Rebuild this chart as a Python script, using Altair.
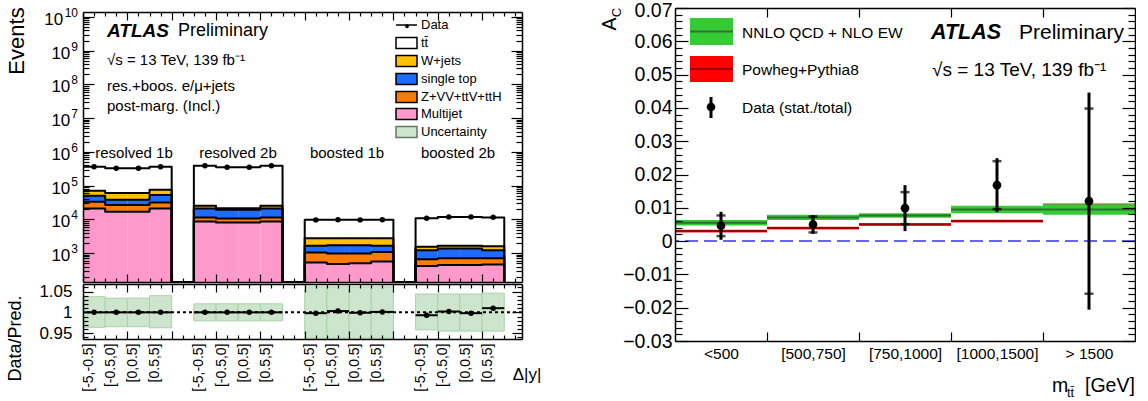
import json
import altair as alt
import pandas as pd

FONT = "Liberation Sans"
TTBAR = "tt\u0304"

# ======================= left panel : event yields =======================
region_names = ["resolved 1b", "resolved 2b", "boosted 1b", "boosted 2b"]
dy_bin_labels = ["[-5,-0.5]", "[-0.5,0]", "[0,0.5]", "[0.5,5]"]

# stack components (bottom -> top), 4 regions x 4 delta|y| bins
multijet = [21200, 16800, 16800, 21200, 8720, 8150, 8150, 8720, 530, 481, 505, 567, 420, 450, 450, 462]
zvv_ttv = [12100, 9800, 9800, 10700, 2780, 2550, 2550, 2780, 520, 499, 475, 523, 244, 261, 261, 249]
single_top = [16800, 11600, 11600, 20700, 9700, 8600, 8600, 9700, 600, 750, 750, 560, 566, 669, 669, 519]
wjets = [20500, 22100, 22100, 22900, 4100, 2300, 2300, 4100, 1140, 1060, 1060, 1140, 310, 270, 270, 380]
ttbar = [293400, 265700, 265700, 288500, 364700, 327400, 327400, 364700, 6940, 6940, 6940, 6940, 9360, 10250, 10250, 9890]
data_events = [364000, 326000, 326000, 366000, 390000, 349000, 349000, 390000, 9700, 9750, 9700, 9750, 10800, 11900, 11900, 11600]

ratio_values = [1.000, 1.000, 1.000, 1.000, 1.000, 1.000, 1.000, 1.000, 0.998, 1.003, 0.999, 1.001, 0.993, 1.002, 0.998, 1.010]
unc_low = [0.964, 0.9655, 0.9655, 0.963, 0.9796, 0.9796, 0.9796, 0.9796, 0.938, 0.938, 0.938, 0.938, 0.958, 0.955, 0.955, 0.955]
unc_high = [1.0376, 1.034, 1.034, 1.040, 1.0204, 1.0204, 1.0204, 1.0204, 1.061, 1.061, 1.061, 1.061, 1.044, 1.044, 1.044, 1.046]

stack_names = ["Multijet", "Z+VV+ttV+ttH", "single top", "W+jets", TTBAR]
stack_values = [multijet, zvv_ttv, single_top, wjets, ttbar]
stack_fill = ["#FF99CC", "#FF7A00", "#1F6BFF", "#FFC000", "#FFFFFF"]

# ======================= right panel : A_C vs m_tt =======================
mtt_bins = ["<500", "[500,750]", "[750,1000]", "[1000,1500]", "> 1500"]
ac_data = [0.0046, 0.0050, 0.0099, 0.0168, 0.0120]
ac_stat = [0.0031, 0.0024, 0.0048, 0.0072, 0.0278]
ac_total = [0.0042, 0.0028, 0.0069, 0.0081, 0.0326]
nnlo_central = [0.0055, 0.0071, 0.0077, 0.0095, 0.0095]
nnlo_halfwidth = [0.0008, 0.0008, 0.0007, 0.0011, 0.0016]
powheg_central = [0.0030, 0.0039, 0.0050, 0.0060, 0.0105]
powheg_halfwidth = [0.0004, 0.0004, 0.0004, 0.0004, 0.0008]

# ======================= geometry =======================
W1, H1, HR = 439, 270, 55
W2, H2 = 460, 333
FLOOR = 140

xs_left = alt.Scale(domain=[0, 19.8], nice=False, zero=False)
ys_main = alt.Scale(type="log", domain=[FLOOR, 1.4e10], nice=False)
ys_ratio = alt.Scale(domain=[0.936, 1.068], nice=False, zero=False)
xs_right = alt.Scale(domain=[0, 5], nice=False, zero=False)
ys_right = alt.Scale(domain=[-0.03, 0.07], nice=False, zero=False)


def tick_axis(orient, offset, values, test, big, small, domain=True):
    return alt.Axis(orient=orient, offset=offset, values=values, labels=False, grid=False, title=None,
                    ticks=True, tickColor="black", tickWidth=1.2,
                    tickSize={"condition": {"test": test, "value": big}, "value": small},
                    domain=domain, domainColor="black", domainWidth=1.5, zindex=1)


def axis_layer(df, xf, yf, xs, ys, xaxis, yaxis):
    return alt.Chart(df).mark_point(opacity=0).encode(
        x=alt.X(xf, scale=xs, axis=xaxis), y=alt.Y(yf, scale=ys, axis=yaxis))


def text_layer(rows, size, **kw):
    df = pd.DataFrame(rows, columns=["px", "py", "txt"])
    return alt.Chart(df).mark_text(font=FONT, fontSize=size, color="black", **kw).encode(
        x=alt.X("px:Q", scale=None), y=alt.Y("py:Q", scale=None), text="txt:N")


def marker(px, py):
    df = pd.DataFrame({"a": [px], "b": [px + 1], "c": [py], "d": [py + 1]})
    return alt.Chart(df).mark_rect(color="white").encode(
        x=alt.X("a:Q", scale=None), x2="b:Q", y=alt.Y("c:Q", scale=None), y2="d:Q")


def pix_rects(rows, **kw):
    df = pd.DataFrame(rows, columns=["a", "b", "c", "d", "fill", "stroke"])
    return alt.Chart(df).mark_rect(**kw).encode(
        x=alt.X("a:Q", scale=None), x2="b:Q", y=alt.Y("c:Q", scale=None), y2="d:Q",
        fill=alt.Fill("fill:N", scale=None), stroke=alt.Stroke("stroke:N", scale=None))


def pix_hlines(rows, **kw):
    df = pd.DataFrame(rows, columns=["a", "b", "c", "color"])
    return alt.Chart(df).mark_rule(**kw).encode(
        x=alt.X("a:Q", scale=None), x2="b:Q", y=alt.Y("c:Q", scale=None),
        color=alt.Color("color:N", scale=None))


# ---------------- build left tables ----------------
rect_rows, line_rows, pt_rows, ratio_rows = [], [], [], []
cum_prev = [0.0] * 16
for name, vals, fill in zip(stack_names, stack_values, stack_fill):
    top = [p + v for p, v in zip(cum_prev, vals)]
    for i in range(16):
        r, b = divmod(i, 4)
        x0 = 5 * r + b
        rect_rows.append({"x0": x0, "x1": x0 + 1, "lo": max(cum_prev[i], FLOOR), "hi": top[i],
                          "fill": fill, "proc": name})
    for k in range(20):
        r, b = divmod(k, 5)
        y = FLOOR if b == 4 else top[4 * r + b]
        line_rows.append({"x": k, "y": y, "proc": name})
    cum_prev = top

for i in range(16):
    r, b = divmod(i, 4)
    x0 = 5 * r + b
    pt_rows.append({"xc": x0 + 0.5, "y": data_events[i]})
    ratio_rows.append({"x0": x0, "x1": x0 + 1, "xc": x0 + 0.5, "ratio": ratio_values[i],
                       "lo": unc_low[i], "hi": unc_high[i]})

rect_df = pd.DataFrame(rect_rows)
line_df = pd.DataFrame(line_rows)
pt_df = pd.DataFrame(pt_rows)
ratio_df = pd.DataFrame(ratio_rows)

# ---------------- axis helpers (left) ----------------
LOGV = "log(datum.value)/LN10"
log_major = f"abs({LOGV} - round({LOGV})) < 0.001"
log_values = [m * 10 ** e for e in range(2, 11) for m in range(1, 10) if FLOOR <= m * 10 ** e <= 1.4e10]
decade_exps = list(range(3, 11))
decade_df = pd.DataFrame({"v": [10 ** e for e in decade_exps],
                          "exp": [str(e) for e in decade_exps],
                          "ex": [-5] * len(decade_exps),
                          "bx": [-5.5 - 7.2 * len(str(e)) for e in decade_exps]})

x_tick_values = [i * 0.5 for i in range(0, 40)]
x_major = "abs(datum.value/2 - round(datum.value/2)) < 0.001"
bin_centres = [5 * r + b + 0.5 for r in range(4) for b in range(4)]
bin_label_expr = f"{json.dumps(dy_bin_labels)}[floor(datum.value) % 5]"

ratio_tick_values = [round(0.94 + 0.01 * i, 3) for i in range(13)]
ratio_major = "abs(datum.value*20 - round(datum.value*20)) < 0.001"

ax_df_main = pd.DataFrame({"x": [1.0], "y": [1e4]})
ax_df_ratio = pd.DataFrame({"x": [1.0], "y": [1.0]})

# ---------------- main (upper-left) panel ----------------
stack_rects = alt.Chart(rect_df).mark_rect().encode(
    x=alt.X("x0:Q", scale=xs_left, axis=None), x2="x1:Q",
    y=alt.Y("lo:Q", scale=ys_main, axis=None), y2="hi:Q",
    fill=alt.Fill("fill:N", scale=None))

stack_lines = alt.Chart(line_df).mark_line(interpolate="step-after", color="black", strokeWidth=2,
                                           strokeJoin="round").encode(
    x=alt.X("x:Q", scale=xs_left, axis=None), y=alt.Y("y:Q", scale=ys_main, axis=None),
    detail="proc:N", order="x:Q")

data_pts = alt.Chart(pt_df).mark_circle(size=30, color="black", opacity=1).encode(
    x=alt.X("xc:Q", scale=xs_left, axis=None), y=alt.Y("y:Q", scale=ys_main, axis=None))

main_axis_a = axis_layer(ax_df_main, "x:Q", "y:Q", xs_left, ys_main,
                         tick_axis("top", -H1, x_tick_values, x_major, 8, 4),
                         tick_axis("right", -W1, log_values, log_major, 11, 6))
main_axis_b = axis_layer(ax_df_main, "x:Q", "y:Q", xs_left, ys_main,
                         tick_axis("bottom", -H1, x_tick_values, x_major, 8, 4),
                         tick_axis("left", -W1, log_values, log_major, 11, 6))

dec_base = alt.Chart(decade_df).mark_text(font=FONT, fontSize=17, color="black", align="right", dy=3).encode(
    x=alt.X("bx:Q", scale=None), y=alt.Y("v:Q", scale=ys_main, axis=None), text=alt.value("10"))
dec_exp = alt.Chart(decade_df).mark_text(font=FONT, fontSize=12, color="black", align="right", dy=-4).encode(
    x=alt.X("ex:Q", scale=None), y=alt.Y("v:Q", scale=ys_main, axis=None), text="exp:N")

atlas_l = text_layer([[24, 19, "ATLAS"]], 19, align="left", fontStyle="italic", fontWeight="bold")
prelim_l = text_layer([[95, 19, "Preliminary"]], 18, align="left")
info_l = text_layer([[24, 48, "\u221as = 13 TeV, 139 fb\u207b\u00b9"],
                     [24, 74, "res.+boos. e/\u03bc+jets"],
                     [24, 94, "post-marg. (Incl.)"]], 15, align="left")
region_txt = text_layer([[51, 141, region_names[0]], [155, 141, region_names[1]],
                         [264, 141, region_names[2]], [375, 141, region_names[3]]], 15)
events_title = text_layer([[-66, 29, "Events"]], 22, angle=270)

leg_rows_y = [31, 49, 67, 85, 102, 120]
leg_labels = [TTBAR, "W+jets", "single top", "Z+VV+ttV+ttH", "Multijet", "Uncertainty"]
leg_fills = ["#FFFFFF", "#FFC000", "#1F6BFF", "#FF7A00", "#FF99CC", "#CCE5CC"]
leg_strokes = ["black", "black", "black", "black", "black", "#667766"]
leg_boxes = pix_rects([[313, 334, y - 5.5, y + 5.5, f, s] for y, f, s in zip(leg_rows_y, leg_fills, leg_strokes)],
                      strokeWidth=1.5)
leg_data_line = pix_hlines([[313, 334, 13, "black"]], strokeWidth=1.5)
leg_data_dot = text_layer([[324, 13.5, "\u25cf"]], 9)
leg_text = text_layer([[338, 13, "Data"]] + [[338, y, t] for y, t in zip(leg_rows_y, leg_labels)], 13,
                      align="left")

main = alt.layer(
    stack_rects, stack_lines, data_pts, main_axis_a, main_axis_b, dec_base, dec_exp,
    atlas_l, prelim_l, info_l, region_txt, events_title,
    leg_boxes, leg_data_line, leg_data_dot, leg_text,
    marker(-83, -20), marker(-83, H1 + 1),
).properties(width=W1, height=H1).resolve_axis(x="independent", y="independent")

# ---------------- ratio (lower-left) panel ----------------
unc_band = alt.Chart(ratio_df).mark_rect(fill="#CCE5CC", stroke="#A9D3A9", strokeWidth=1).encode(
    x=alt.X("x0:Q", scale=xs_left, axis=None), x2="x1:Q",
    y=alt.Y("lo:Q", scale=ys_ratio, axis=None), y2="hi:Q")
one_line = alt.Chart(pd.DataFrame({"v": [1.0]})).mark_rule(color="black", strokeWidth=2, strokeDash=[3, 3]).encode(
    y=alt.Y("v:Q", scale=ys_ratio, axis=None))
ratio_xerr = alt.Chart(ratio_df).mark_rule(color="black", strokeWidth=2).encode(
    x=alt.X("x0:Q", scale=xs_left, axis=None), x2="x1:Q", y=alt.Y("ratio:Q", scale=ys_ratio, axis=None))
ratio_pts = alt.Chart(ratio_df).mark_circle(size=30, color="black", opacity=1).encode(
    x=alt.X("xc:Q", scale=xs_left, axis=None), y=alt.Y("ratio:Q", scale=ys_ratio, axis=None))

ratio_axis_a = axis_layer(ax_df_ratio, "x:Q", "y:Q", xs_left, ys_ratio,
                          alt.Axis(orient="bottom", values=bin_centres, labelExpr=bin_label_expr, ticks=False,
                                   tickSize=0, grid=False, title=None, domain=True, domainColor="black",
                                   domainWidth=1.5, labelFont=FONT, labelFontSize=14, labelColor="black",
                                   labelAngle=270, labelAlign="right", labelBaseline="middle",
                                   labelOffset=-6, labelPadding=4, labelOverlap=False, labelFlush=False,
                                   zindex=1),
                          alt.Axis(orient="left", values=[0.95, 1.0, 1.05], format="~g",
                                   ticks=False, tickSize=0, grid=False, title=None, domain=True,
                                   domainColor="black", domainWidth=1.5, labelFont=FONT, labelFontSize=17,
                                   labelColor="black", labelPadding=11, labelOverlap=False, zindex=1))
ratio_axis_b = axis_layer(ax_df_ratio, "x:Q", "y:Q", xs_left, ys_ratio,
                          tick_axis("top", -HR, x_tick_values, x_major, 8, 4, domain=False),
                          tick_axis("right", -W1, ratio_tick_values, ratio_major, 10, 5, domain=False))
ratio_axis_c = axis_layer(ax_df_ratio, "x:Q", "y:Q", xs_left, ys_ratio,
                          tick_axis("bottom", -HR, x_tick_values, x_major, 8, 4),
                          tick_axis("left", -W1, ratio_tick_values, ratio_major, 10, 5))

ratio_title = text_layer([[-67, 54.5, "Data/Pred."]], 18, angle=270)
dy_title = text_layer([[444, 91, "\u0394|y|"]], 17)

ratio = alt.layer(
    unc_band, one_line, ratio_xerr, ratio_pts, ratio_axis_a, ratio_axis_b, ratio_axis_c,
    ratio_title, dy_title, marker(-83, -20), marker(466, 10),
).properties(width=W1, height=HR).resolve_axis(x="independent", y="independent")

# ---------------- right panel ----------------
rrows = []
for i, lab in enumerate(mtt_bins):
    rrows.append({"x0": i, "x1": i + 1, "xc": i + 0.5,
                  "ac": ac_data[i], "tot_lo": ac_data[i] - ac_total[i], "tot_hi": ac_data[i] + ac_total[i],
                  "nn": nnlo_central[i], "nn_lo": nnlo_central[i] - nnlo_halfwidth[i],
                  "nn_hi": nnlo_central[i] + nnlo_halfwidth[i],
                  "pw": powheg_central[i], "pw_lo": powheg_central[i] - powheg_halfwidth[i],
                  "pw_hi": powheg_central[i] + powheg_halfwidth[i]})
rdf = pd.DataFrame(rrows)
cap_df = pd.DataFrame([{"xc": i + 0.5, "y": ac_data[i] + s * ac_stat[i]} for i in range(5) for s in (-1, 1)])

RX = dict(scale=xs_right, axis=None)
RY = dict(scale=ys_right, axis=None)
pw_band = alt.Chart(rdf).mark_rect(fill="#FF1A1A").encode(
    x=alt.X("x0:Q", **RX), x2="x1:Q", y=alt.Y("pw_lo:Q", **RY), y2="pw_hi:Q")
pw_line = alt.Chart(rdf).mark_rule(color="#A30000", strokeWidth=2).encode(
    x=alt.X("x0:Q", **RX), x2="x1:Q", y=alt.Y("pw:Q", **RY))
nn_band = alt.Chart(rdf).mark_rect(fill="#33CC33").encode(
    x=alt.X("x0:Q", **RX), x2="x1:Q", y=alt.Y("nn_lo:Q", **RY), y2="nn_hi:Q")
nn_line = alt.Chart(rdf).mark_rule(color="#2F6F2F", strokeWidth=2).encode(
    x=alt.X("x0:Q", **RX), x2="x1:Q", y=alt.Y("nn:Q", **RY))
zero_line = alt.Chart(pd.DataFrame({"v": [0.0]})).mark_rule(color="#3333EE", strokeWidth=1.5,
                                                           strokeDash=[13, 6]).encode(y=alt.Y("v:Q", **RY))
tot_err = alt.Chart(rdf).mark_rule(color="black", strokeWidth=3).encode(
    x=alt.X("xc:Q", **RX), y=alt.Y("tot_lo:Q", **RY), y2="tot_hi:Q")
stat_caps = alt.Chart(cap_df).mark_tick(orient="horizontal", color="black", size=9, thickness=2.5).encode(
    x=alt.X("xc:Q", **RX), y=alt.Y("y:Q", **RY))
ac_pts = alt.Chart(rdf).mark_circle(size=75, color="black", opacity=1).encode(
    x=alt.X("xc:Q", **RX), y=alt.Y("ac:Q", **RY))

ry_values = [round(-0.03 + 0.002 * i, 4) for i in range(51)]
ry_major_values = [round(-0.03 + 0.01 * i, 3) for i in range(11)]
ry_major = "abs(datum.value*100 - round(datum.value*100)) < 0.001"
ry_label = "abs(datum.value) < 1e-9 ? '0' : format(datum.value, '.2f')"
rx_edges = [1, 2, 3, 4]
rx_centres = [i + 0.5 for i in range(5)]
ax_df_r = pd.DataFrame({"x": [0.5], "y": [0.0]})

r_axis_a = axis_layer(ax_df_r, "x:Q", "y:Q", xs_right, ys_right,
                      alt.Axis(orient="bottom", values=rx_centres, labelExpr=f"{json.dumps(mtt_bins)}[floor(datum.value)]",
                               ticks=False, tickSize=0, grid=False, title=None, domain=True, domainColor="black",
                               domainWidth=1.5, labelFont=FONT, labelFontSize=15.5, labelColor="black",
                               labelPadding=5, labelFlush=False, labelOverlap=False, zindex=1),
                      alt.Axis(orient="left", values=ry_major_values, labelExpr=ry_label, ticks=False, tickSize=0,
                               grid=False, title=None, domain=True, domainColor="black", domainWidth=1.5,
                               labelFont=FONT, labelFontSize=19.5, labelColor="black", labelPadding=3,
                               labelOffset={"condition": {"test": "datum.value > 0.065", "value": 2.5},
                                            "value": 0},
                               labelOverlap=False, labelFlush=False, zindex=1))
r_axis_b = axis_layer(ax_df_r, "x:Q", "y:Q", xs_right, ys_right,
                      tick_axis("top", -H2, rx_edges, "true", 9, 9, domain=False),
                      tick_axis("right", -W2, ry_values, ry_major, 13, 7, domain=False))
r_axis_c = axis_layer(ax_df_r, "x:Q", "y:Q", xs_right, ys_right,
                      tick_axis("bottom", -H2, rx_edges, "true", 9, 9),
                      tick_axis("left", -W2, ry_values, ry_major, 13, 7))

r_leg_boxes = pix_rects([[15, 58, 10, 37, "#33CC33", "#33CC33"], [15, 58, 48, 74, "#FF0000", "#FF0000"]],
                        strokeWidth=0)
r_leg_lines = pix_hlines([[15, 58, 23.5, "#3A6B3A"], [15, 58, 61, "#990000"]], strokeWidth=2)
r_leg_bar = alt.Chart(pd.DataFrame({"a": [36], "c": [89], "d": [110]})).mark_rule(color="black", strokeWidth=3).encode(
    x=alt.X("a:Q", scale=None), y=alt.Y("c:Q", scale=None), y2="d:Q")
r_leg_dot = alt.Chart(pd.DataFrame({"a": [36], "c": [99]})).mark_circle(size=75, color="black", opacity=1).encode(
    x=alt.X("a:Q", scale=None), y=alt.Y("c:Q", scale=None))
r_leg_text = text_layer([[67, 25, "NNLO QCD + NLO EW"], [67, 62, "Powheg+Pythia8"],
                         [67, 100, "Data (stat./total)"]], 15.5, align="left")
atlas_r = text_layer([[256, 25, "ATLAS"]], 21.5, align="left", fontStyle="italic", fontWeight="bold")
prelim_r = text_layer([[344, 25, "Preliminary"]], 21, align="left")
info_r = text_layer([[257, 62, "\u221as = 13 TeV, 139 fb\u207b\u00b9"]], 19, align="left")
ac_title_a = text_layer([[-65, 16, "A"]], 19.5, angle=270)
ac_title_c = text_layer([[-58.5, 4.5, "C"]], 13, angle=270)
m_title = text_layer([[377, 378, "m"], [410, 378, "[GeV]"]], 19.5, align="left")
m_sub = text_layer([[392, 384.5, TTBAR]], 13, align="left")

right = alt.layer(
    pw_band, pw_line, nn_band, nn_line, zero_line, tot_err, stat_caps, ac_pts,
    r_axis_a, r_axis_b, r_axis_c,
    r_leg_boxes, r_leg_lines, r_leg_bar, r_leg_dot, r_leg_text,
    atlas_r, prelim_r, info_r, ac_title_a, ac_title_c, m_title, m_sub,
    marker(-80, -16),
).properties(width=W2, height=H2).resolve_axis(x="independent", y="independent")

# thin spacers: the upper-left panel starts 4 px lower than the right panel
spacer_left = marker(0, 0).properties(width=W1, height=5)
spacer_right = marker(0, 0).properties(width=W2, height=1)

left_block = alt.vconcat(spacer_left, main, ratio, spacing=-100)
right_block = alt.vconcat(spacer_right, right, spacing=-100)
chart = alt.hconcat(left_block, right_block, spacing=45).properties(
    padding={"left": 0, "top": -8, "right": 0, "bottom": 0}, background="white"
).configure_view(stroke=None)

chart.save("out.html", embed_options={"renderer": "svg", "actions": False})
